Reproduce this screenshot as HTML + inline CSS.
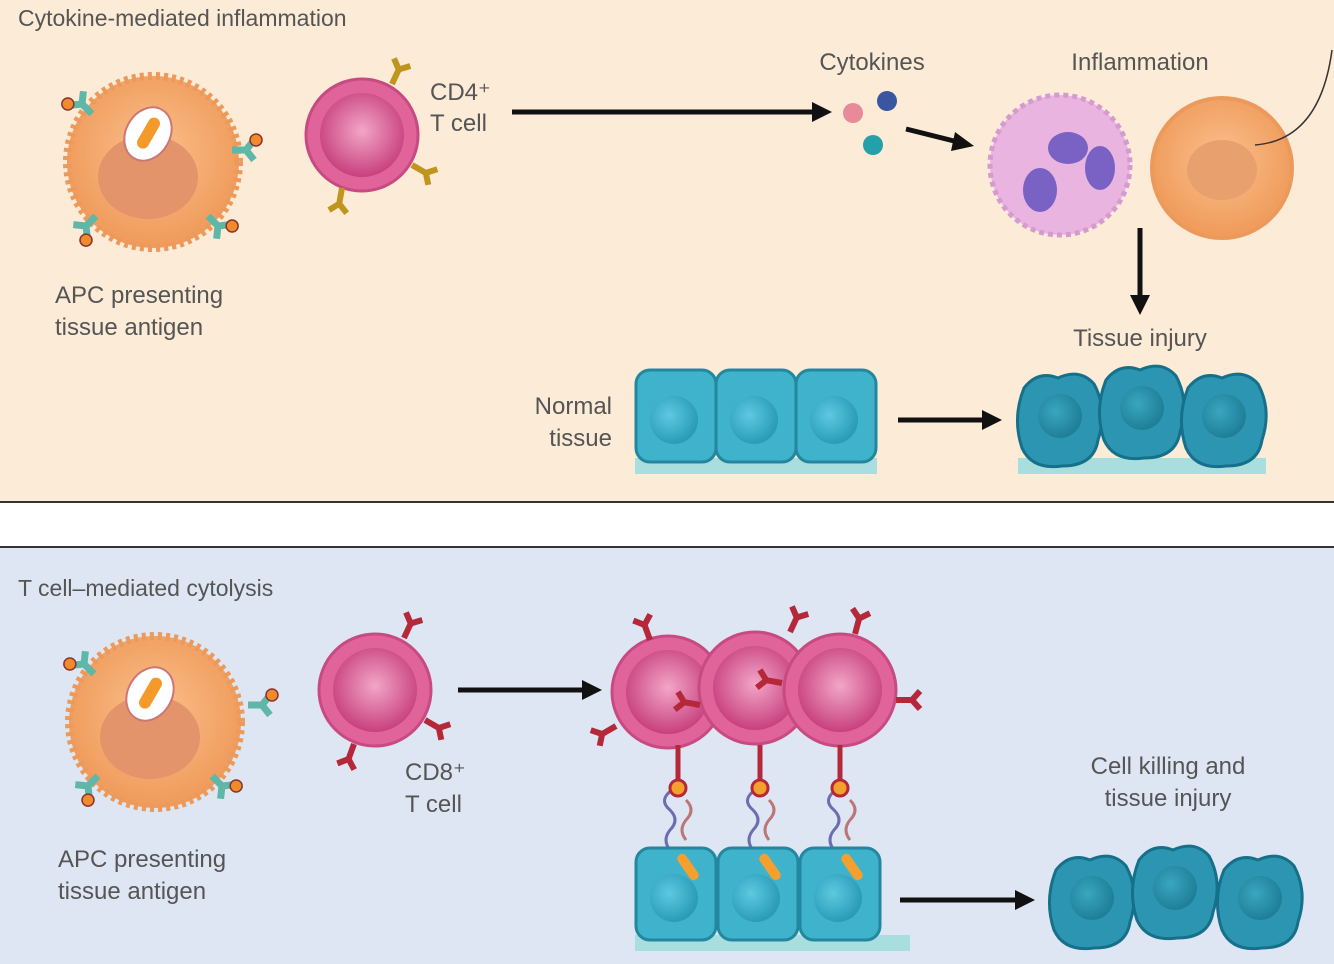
<!DOCTYPE html>
<html><head><meta charset="utf-8"><style>
html,body{margin:0;padding:0;background:#fff}
svg{display:block}
text{font-family:"Liberation Sans",sans-serif;fill:#555}
</style></head><body>
<svg width="1334" height="964" viewBox="0 0 1334 964" xmlns="http://www.w3.org/2000/svg">
<defs>
<radialGradient id="pink" cx="50%" cy="45%" r="55%"><stop offset="0" stop-color="#f2a6c8"/><stop offset="1" stop-color="#c8407e"/></radialGradient>
<radialGradient id="org" cx="50%" cy="45%" r="55%"><stop offset="0" stop-color="#fbc08c"/><stop offset="1" stop-color="#ef9a5a"/></radialGradient>
<radialGradient id="cy" cx="40%" cy="40%" r="60%"><stop offset="0" stop-color="#5ec9e0"/><stop offset="1" stop-color="#2a9cb8"/></radialGradient>
<radialGradient id="cyd" cx="40%" cy="40%" r="60%"><stop offset="0" stop-color="#3aa6bf"/><stop offset="1" stop-color="#1f7f98"/></radialGradient>
<g id="apc">
<circle r="86" fill="url(#org)" stroke="#ec9a5c" stroke-width="8" stroke-dasharray="4 4"/>
<ellipse cx="-5" cy="15" rx="50" ry="42" fill="#e4946a"/>
<ellipse cx="-5" cy="-28" rx="22" ry="28" fill="#fff" stroke="#c77" stroke-width="2" transform="rotate(30 -5 -28)"/>
<rect x="-11" y="-46" width="12" height="34" rx="6" fill="#f39a2a" transform="rotate(30 -5 -28)"/>
</g>
<g id="rec"><path d="M0,0 l-10,-8 m10,8 l10,-8 M0,0 v14" stroke="#5fb7a8" stroke-width="7" fill="none"/><circle cx="-10" cy="-10" r="6" fill="#f08a2a" stroke="#833" stroke-width="1.5"/></g>
<g id="tc"><circle r="56" fill="#e0649a" stroke="#c84a82" stroke-width="3"/><circle r="42" fill="url(#pink)"/></g>
<g id="ycl"><path d="M0,0 v-16 l-9,-8 m9,8 l9,-8" stroke="#c0951e" stroke-width="6" fill="none"/></g>
<g id="ycr"><path d="M0,0 v-16 l-9,-8 m9,8 l9,-8" stroke="#b5283a" stroke-width="6" fill="none"/></g>
<g id="ncell"><rect width="80" height="92" rx="14" fill="#3fb2cc" stroke="#23879f" stroke-width="3"/><circle cx="38" cy="50" r="24" fill="url(#cy)"/></g>
<g id="icell"><path d="M6,18 Q20,0 40,8 Q62,-2 76,14 Q90,40 80,70 Q76,96 44,96 Q14,100 4,78 Q-6,48 6,18Z" fill="#2c96b2" stroke="#17708a" stroke-width="3"/><circle cx="42" cy="46" r="22" fill="url(#cyd)"/></g>
</defs>

<rect x="0" y="0" width="1334" height="502" fill="#fcebd6"/>
<line x1="0" y1="502" x2="1334" y2="502" stroke="#333" stroke-width="2"/>
<text x="18" y="26" font-size="23">Cytokine-mediated inflammation</text>
<use href="#apc" x="153" y="162"/>
<use href="#rec" transform="translate(82 104) rotate(-45)"/>
<use href="#rec" transform="translate(86 226) rotate(-135)"/>
<use href="#rec" transform="translate(218 226) rotate(135)"/>
<use href="#rec" transform="translate(246 150) rotate(90)"/>
<text x="55" y="303" font-size="24">APC presenting</text>
<text x="55" y="335" font-size="24">tissue antigen</text>
<use href="#tc" x="362" y="135"/>
<use href="#ycl" transform="translate(392 84) rotate(25)"/>
<use href="#ycl" transform="translate(412 165) rotate(120)"/>
<use href="#ycl" transform="translate(342 188) rotate(190)"/>
<text x="430" y="100" font-size="24">CD4⁺</text>
<text x="430" y="131" font-size="24">T cell</text>
<line x1="512" y1="112" x2="815" y2="112" stroke="#111" stroke-width="5"/>
<path d="M812,102 L832,112 L812,122Z" fill="#111"/>
<text x="872" y="70" font-size="24" text-anchor="middle">Cytokines</text>
<circle cx="853" cy="113" r="10" fill="#e88a9a"/>
<circle cx="887" cy="101" r="10" fill="#3a56a0"/>
<circle cx="873" cy="145" r="10" fill="#24a0a8"/>
<line x1="906" y1="129" x2="958" y2="142" stroke="#111" stroke-width="5"/>
<path d="M955,132 L974,146 L951,151Z" fill="#111"/>
<text x="1140" y="70" font-size="24" text-anchor="middle">Inflammation</text>
<circle cx="1060" cy="165" r="70" fill="#e9b4e0" stroke="#d59ad0" stroke-width="5" stroke-dasharray="5 4"/>
<ellipse cx="1068" cy="148" rx="20" ry="16" fill="#7a62c4"/>
<ellipse cx="1100" cy="168" rx="15" ry="22" fill="#7a62c4"/>
<ellipse cx="1040" cy="190" rx="17" ry="22" fill="#7a62c4"/>
<circle cx="1222" cy="168" r="70" fill="url(#org)" stroke="#ec9a5c" stroke-width="4"/>
<ellipse cx="1222" cy="170" rx="35" ry="30" fill="#e8a06e"/>
<path d="M1255,145 Q1320,140 1332,50" stroke="#333" stroke-width="1.5" fill="none"/>
<line x1="1140" y1="228" x2="1140" y2="298" stroke="#111" stroke-width="5"/>
<path d="M1130,295 L1140,315 L1150,295Z" fill="#111"/>
<text x="1140" y="346" font-size="24" text-anchor="middle">Tissue injury</text>
<text x="612" y="414" font-size="24" text-anchor="end">Normal</text>
<text x="612" y="446" font-size="24" text-anchor="end">tissue</text>
<rect x="635" y="458" width="242" height="16" fill="#a9dede"/>
<use href="#ncell" x="636" y="370"/><use href="#ncell" x="716" y="370"/><use href="#ncell" x="796" y="370"/>
<line x1="898" y1="420" x2="985" y2="420" stroke="#111" stroke-width="5"/>
<path d="M982,410 L1002,420 L982,430Z" fill="#111"/>
<rect x="1018" y="458" width="248" height="16" fill="#a9dede"/>
<use href="#icell" x="1018" y="370"/><use href="#icell" x="1100" y="362"/><use href="#icell" x="1182" y="370"/>

<rect x="0" y="547" width="1334" height="417" fill="#dfe6f3"/>
<line x1="0" y1="547" x2="1334" y2="547" stroke="#333" stroke-width="2"/>
<text x="18" y="596" font-size="23">T cell–mediated cytolysis</text>
<use href="#apc" x="155" y="722"/>
<use href="#rec" transform="translate(84 664) rotate(-45)"/>
<use href="#rec" transform="translate(88 786) rotate(-135)"/>
<use href="#rec" transform="translate(222 786) rotate(135)"/>
<use href="#rec" transform="translate(262 705) rotate(90)"/>
<text x="58" y="867" font-size="24">APC presenting</text>
<text x="58" y="899" font-size="24">tissue antigen</text>
<use href="#tc" x="375" y="690"/>
<use href="#ycr" transform="translate(404 638) rotate(25)"/>
<use href="#ycr" transform="translate(425 720) rotate(120)"/>
<use href="#ycr" transform="translate(354 744) rotate(200)"/>
<text x="405" y="780" font-size="24">CD8⁺</text>
<text x="405" y="812" font-size="24">T cell</text>
<line x1="458" y1="690" x2="585" y2="690" stroke="#111" stroke-width="5"/>
<path d="M582,680 L602,690 L582,700Z" fill="#111"/>
<rect x="635" y="935" width="275" height="16" fill="#a9dede"/>
<g stroke-width="3" fill="none">
<path d="M672,790 q-14,10 -2,20 q10,10 0,20 q-8,10 0,20" stroke="#6c6cb0"/><path d="M686,800 q10,10 0,20 q-8,10 0,20" stroke="#b77"/>
<path d="M755,790 q-14,10 -2,20 q10,10 0,20 q-8,10 0,20" stroke="#6c6cb0"/><path d="M769,800 q10,10 0,20 q-8,10 0,20" stroke="#b77"/>
<path d="M836,790 q-14,10 -2,20 q10,10 0,20 q-8,10 0,20" stroke="#6c6cb0"/><path d="M850,800 q10,10 0,20 q-8,10 0,20" stroke="#b77"/>
</g>
<use href="#ncell" x="636" y="848"/><use href="#ncell" x="718" y="848"/><use href="#ncell" x="800" y="848"/>
<g fill="#f3a02e"><rect x="683" y="852" width="10" height="30" rx="5" transform="rotate(-35 688 867)"/><rect x="765" y="852" width="10" height="30" rx="5" transform="rotate(-35 770 867)"/><rect x="847" y="852" width="10" height="30" rx="5" transform="rotate(-35 852 867)"/></g>
<use href="#tc" x="668" y="692"/><use href="#tc" x="755" y="688"/><use href="#tc" x="840" y="690"/>
<use href="#ycr" transform="translate(650 640) rotate(-20)"/>
<use href="#ycr" transform="translate(790 632) rotate(25)"/>
<use href="#ycr" transform="translate(855 634) rotate(15)"/>
<use href="#ycr" transform="translate(616 726) rotate(-120)"/>
<use href="#ycr" transform="translate(896 700) rotate(90)"/>
<use href="#ycr" transform="translate(700 705) rotate(-80)"/>
<use href="#ycr" transform="translate(782 683) rotate(-80)"/>
<g stroke="#b5283a" stroke-width="5"><line x1="678" y1="745" x2="678" y2="785"/><line x1="760" y1="745" x2="760" y2="785"/><line x1="840" y1="745" x2="840" y2="785"/></g>
<g fill="#f3a02e" stroke="#b5283a" stroke-width="3"><circle cx="678" cy="788" r="8"/><circle cx="760" cy="788" r="8"/><circle cx="840" cy="788" r="8"/></g>
<line x1="900" y1="900" x2="1018" y2="900" stroke="#111" stroke-width="5"/>
<path d="M1015,890 L1035,900 L1015,910Z" fill="#111"/>
<text x="1168" y="774" font-size="24" text-anchor="middle">Cell killing and</text>
<text x="1168" y="806" font-size="24" text-anchor="middle">tissue injury</text>
<use href="#icell" x="1050" y="852"/><use href="#icell" x="1133" y="842"/><use href="#icell" x="1218" y="852"/>
</svg>
</body></html>
